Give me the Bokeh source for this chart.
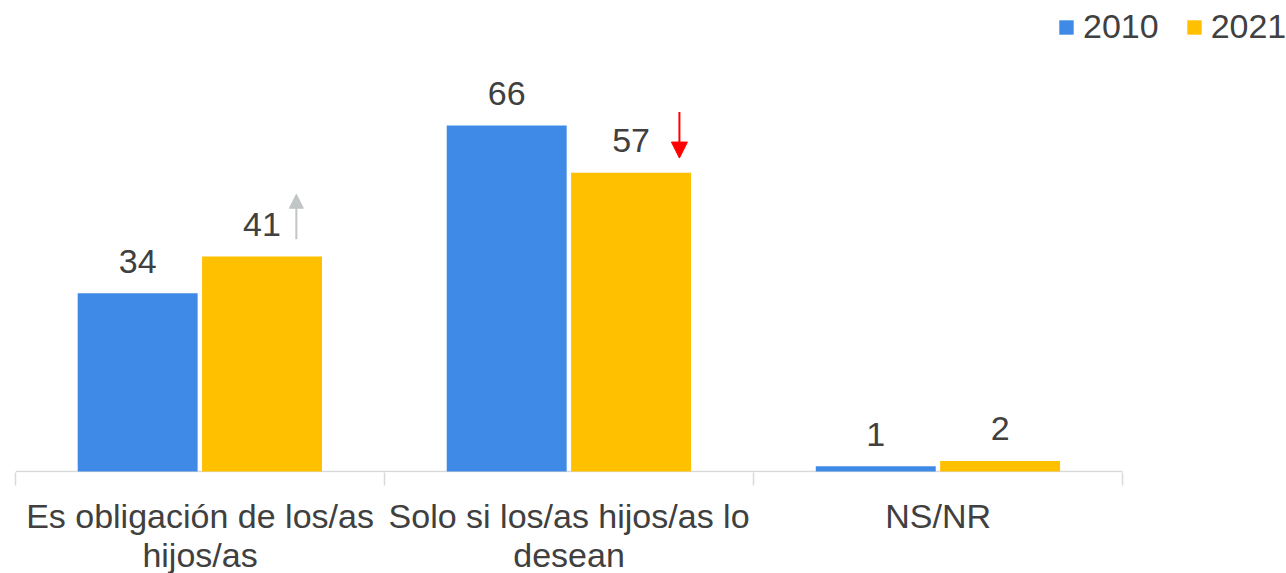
from bokeh.plotting import figure
from bokeh.models import (ColumnDataSource, Range1d, FixedTicker, Legend,
                          LegendItem, Arrow, NormalHead)
from bokeh.core.properties import value
from bokeh.embed import file_html
from bokeh.resources import INLINE

categories = ["Es obligación de los/as\nhijos/as", "Solo si los/as hijos/as lo\ndesean", "NS/NR"]
series_names = ["2010", "2021"]
values_2010 = [34, 66, 1]
values_2021 = [41, 57, 2]
colors = ["#3e8ae6", "#ffc000"]
# change indicators for 2021 vs 2010 (category index, direction)
change_idx = [0, 1]
change_dir = ["up", "down"]
change_col = ["#c0c5c5", "#ff0000"]

FONT = "Liberation Sans"
TXT = "#404040"

n = len(categories)
centers = [i + 0.5 for i in range(n)]
offsets = [-0.169, 0.168]
bw = 0.325
arrow_dx = [0.093, 0.131]

p = figure(frame_width=1271, frame_height=472, output_backend="svg", toolbar_location=None,
           x_range=Range1d(0, 3.444), y_range=Range1d(-0.2, 89.87),
           min_border_left=15, min_border_right=0, min_border_top=0, min_border_bottom=0)
p.outline_line_color = None
p.xgrid.visible = False
p.ygrid.visible = False
p.yaxis.visible = False

ax = p.xaxis[0]
ax.ticker = FixedTicker(ticks=centers, minor_ticks=list(range(n + 1)))
ax.major_label_overrides = {c: cat for c, cat in zip(centers, categories)}
ax.major_label_text_font = FONT
ax.major_label_text_font_size = "34px"
ax.major_label_text_color = TXT
ax.major_label_text_line_height = 1.05
ax.major_label_standoff = 11
ax.axis_line_color = None
ax.major_tick_line_color = None
ax.major_tick_out = 0
ax.major_tick_in = 0
ax.minor_tick_line_color = "#d9d9d9"
ax.minor_tick_line_width = 1.5
ax.minor_tick_out = 13
ax.minor_tick_in = 0

# baseline
p.segment(x0=[0], y0=[0], x1=[n], y1=[0], line_color="#d9d9d9", line_width=1.5)

renderers = []
for s, (vals, col, off) in enumerate(zip([values_2010, values_2021], colors, offsets)):
    src = ColumnDataSource(dict(x=[c + off for c in centers], top=vals,
                                lab=[str(v) for v in vals]))
    r = p.vbar(x="x", top="top", width=bw, source=src, fill_color=col, line_color=None)
    renderers.append(r)
    p.text(x="x", y="top", text="lab", source=src, text_align="center",
           text_baseline="alphabetic", y_offset=-32, text_font=value(FONT),
           text_font_size="34px", text_color=TXT)

# change arrows next to 2021 bars
for i, d, col, dx in zip(change_idx, change_dir, change_col, arrow_dx):
    xa = centers[i] + offsets[1] + dx
    v = values_2021[i]
    if d == "up":
        ys, ye, sz, lw = v + 3.3, v + 11.9, 14, 2
    else:
        ys, ye, sz, lw = v + 11.6, v + 2.8, 16, 2
    p.add_layout(Arrow(x_start=xa, y_start=ys, x_end=xa, y_end=ye, line_color=col,
                       line_width=lw,
                       end=NormalHead(size=sz, fill_color=col, line_color=col)))

legend = Legend(items=[LegendItem(label=nm, renderers=[r]) for nm, r in zip(series_names, renderers)],
                orientation="horizontal", location=(1042, 426),
                label_text_font=FONT, label_text_font_size="34px", label_text_color=TXT,
                glyph_width=18, glyph_height=18, label_standoff=8, spacing=26,
                padding=0, margin=0, border_line_color=None, background_fill_alpha=0)
p.add_layout(legend, "center")

open("out.html", "w").write(file_html(p, INLINE))
